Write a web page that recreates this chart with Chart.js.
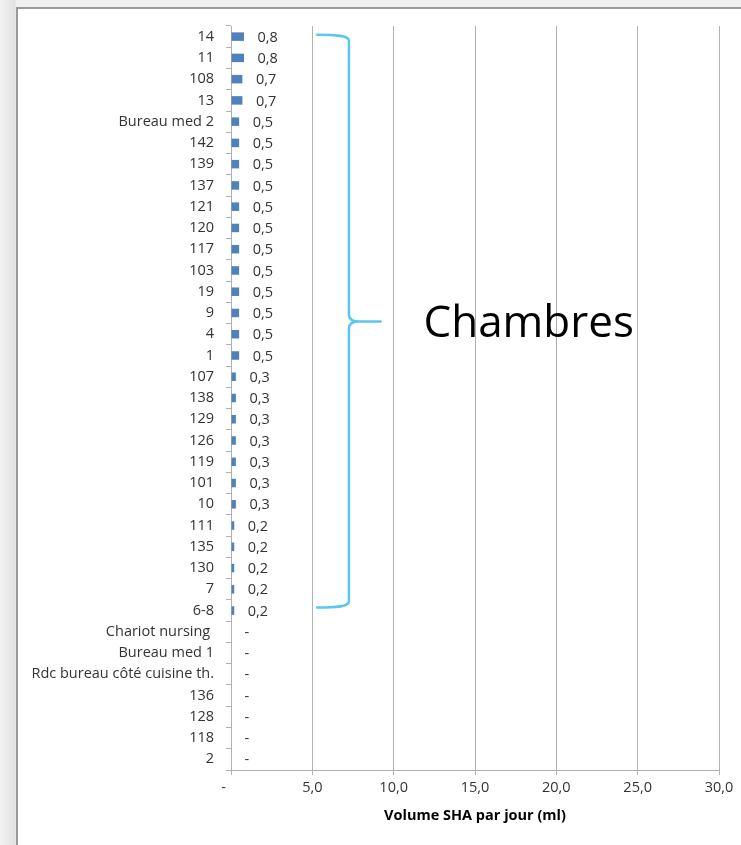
<!DOCTYPE html>
<html>
<head>
<meta charset="utf-8">
<script src="https://cdn.jsdelivr.net/npm/chart.js@4.4.0/dist/chart.umd.min.js"></script>
<style>
  body {
    margin: 0;
    width: 741px;
    height: 845px;
    overflow: hidden;
    background: linear-gradient(to right, #f3f3f3 0px, #e2e2e2 15px, #f0f0f0 16px);
  }
  #frame {
    position: absolute;
    left: 16px;
    top: 7px;
    width: 740px;
    height: 850px;
    background: #ffffff;
    border-left: 2px solid #9a9a9a;
    border-top: 2px solid #9a9a9a;
  }
  #myBarChart {
    position: absolute;
    left: 0;
    top: 0;
  }
</style>
</head>
<body>
<div id="frame"></div>
<canvas id="myBarChart" width="741" height="845"></canvas>
<script>
// Rooms / places, top to bottom as in the picture
const rooms = [
  "14", "11", "108", "13", "Bureau med 2", "142", "139", "137", "121", "120",
  "117", "103", "19", "9", "4", "1", "107", "138", "129", "126",
  "119", "101", "10", "111", "135", "130", "7", "6-8", "Chariot nursing ", "Bureau med 1",
  "Rdc bureau côté cuisine th.", "136", "128", "118", "2"
];

// Volume SHA per day (ml)
const volumes = [
  0.8, 0.8, 0.7, 0.7, 0.5, 0.5, 0.5, 0.5, 0.5, 0.5,
  0.5, 0.5, 0.5, 0.5, 0.5, 0.5, 0.3, 0.3, 0.3, 0.3,
  0.3, 0.3, 0.3, 0.2, 0.2, 0.2, 0.2, 0.2, 0, 0,
  0, 0, 0, 0, 0
];

// x axis ticks
const xTicks = [0, 5, 10, 15, 20, 25, 30];

// brace around the rooms ("Chambres")
const braceFirst = "14";
const braceLast = "6-8";
const braceText = "Chambres";

const textColor = "#333333";
const gridColor = "#b0b0b0";
const fontFamily = "'Open Sans'";

// format like Excel: "-" for zero, comma decimal
function fmt(v) {
  if (v === 0) return "-";
  return v.toFixed(1).replace(".", ",");
}

// draw the value next to each bar
const valueLabels = {
  id: "valueLabels",
  afterDatasetsDraw(chart) {
    const ctx = chart.ctx;
    const meta = chart.getDatasetMeta(0);
    ctx.save();
    ctx.font = "14.5px " + fontFamily;
    ctx.fillStyle = textColor;
    ctx.textAlign = "left";
    ctx.textBaseline = "middle";
    meta.data.forEach((bar, i) => {
      ctx.fillText(fmt(volumes[i]), bar.x + 13.5, bar.y + 1);
    });
    ctx.restore();
  }
};

// curly brace and text
const bracePlugin = {
  id: "brace",
  afterDraw(chart) {
    const x = chart.scales.x;
    const y = chart.scales.y;
    const ctx = chart.ctx;
    const i0 = rooms.indexOf(braceFirst);
    const i1 = rooms.indexOf(braceLast);
    const yTop = y.getPixelForValue(i0) - 2;
    const yBot = y.getPixelForValue(i1) - 3;
    const yTip = (y.getPixelForValue(13) + y.getPixelForValue(14)) / 2 - 2;
    const x0 = x.getPixelForValue(5.3);
    const xv = x.getPixelForValue(7.25);
    const xTip = x.getPixelForValue(9.2);

    ctx.save();
    ctx.strokeStyle = "#5bc6ee";
    ctx.lineWidth = 2.5;
    ctx.lineCap = "round";
    ctx.beginPath();
    ctx.moveTo(x0, yTop);
    ctx.bezierCurveTo(x0 + 20, yTop, xv, yTop + 1, xv, yTop + 6);
    ctx.lineTo(xv, yTip - 7);
    ctx.quadraticCurveTo(xv, yTip, xv + 10, yTip);
    ctx.lineTo(xTip, yTip);
    ctx.moveTo(xv + 10, yTip);
    ctx.quadraticCurveTo(xv, yTip, xv, yTip + 7);
    ctx.lineTo(xv, yBot - 6);
    ctx.bezierCurveTo(xv, yBot - 1, x0 + 20, yBot, x0, yBot);
    ctx.stroke();

    ctx.fillStyle = "#000000";
    ctx.font = "44px " + fontFamily;
    ctx.textAlign = "center";
    ctx.textBaseline = "middle";
    ctx.fillText(braceText, x.getPixelForValue(18.3), yTip + 3);
    ctx.restore();
  }
};

document.addEventListener("DOMContentLoaded", function () {
  const ctx = document.getElementById("myBarChart").getContext("2d");

  const data = {
    labels: rooms,
    datasets: [
      {
        label: "Volume SHA par jour (ml)",
        data: volumes,
        backgroundColor: "#4f81bd",
        barPercentage: 0.4,
        categoryPercentage: 1.0,
      },
    ],
  };

  const myBarChart = new Chart(ctx, {
    type: "bar",
    data: data,
    options: {
      indexAxis: "y",
      responsive: false,
      animation: false,
      layout: { padding: { top: 26, right: 22, bottom: 0, left: 0 } },
      plugins: {
        legend: { display: false },
        tooltip: { enabled: false },
      },
      scales: {
        x: {
          min: 0,
          max: 30,
          afterBuildTicks(scale) {
            scale.ticks = xTicks.map((v) => ({ value: v }));
          },
          afterFit(scale) {
            scale.height = 75;
          },
          grid: { color: gridColor, tickLength: 5 },
          border: { color: gridColor },
          ticks: {
            color: textColor,
            font: { family: fontFamily, size: 14.5 },
            padding: 4,
            maxRotation: 0,
            callback: (v) => (v === 0 ? "-    " : fmt(v)),
          },
          title: {
            display: true,
            text: "Volume SHA par jour (ml)",
            color: "#000000",
            font: { family: fontFamily, size: 14.5, weight: "bold" },
            padding: { top: 0, bottom: 20 },
          },
        },
        y: {
          afterFit(scale) {
            scale.width = 231;
          },
          grid: {
            drawOnChartArea: false,
            color: gridColor,
            tickLength: 5,
            offset: true,
          },
          border: { color: gridColor },
          ticks: {
            color: textColor,
            font: { family: fontFamily, size: 14.5 },
            padding: 12,
            autoSkip: false,
          },
        },
      },
    },
    plugins: [valueLabels, bracePlugin],
  });
});
</script>
</body>
</html>
